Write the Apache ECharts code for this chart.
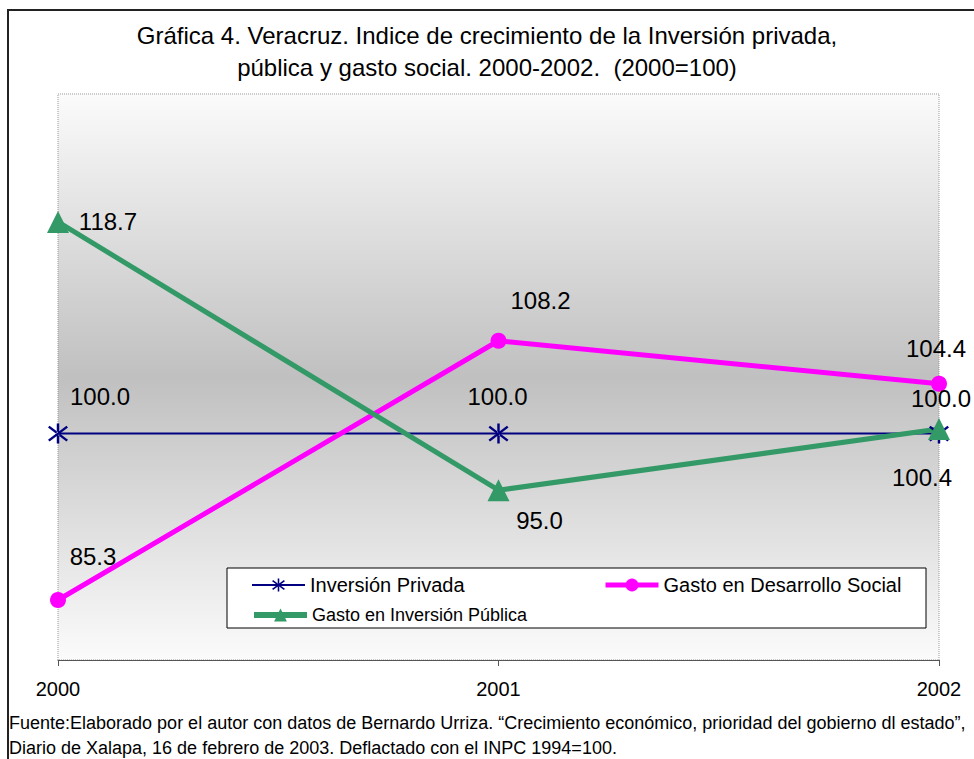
<!DOCTYPE html>
<html>
<head>
<meta charset="utf-8">
<title>Gráfica 4. Veracruz</title>
<script src="https://cdn.jsdelivr.net/npm/echarts@6/dist/echarts.min.js"></script>
<style>
  html, body { margin: 0; padding: 0; background: #fff; }
  #chart { width: 974px; height: 759px; }
</style>
</head>
<body>
<div id="chart"></div>
<script>
// datos (2000=100)
const years = ['2000', '2001', '2002'];
const inversionPrivada = [100.0, 100.0, 100.0];
const desarrolloSocial = [85.3, 108.2, 104.4];
const inversionPublica = [118.7, 95.0, 100.4];

const FONT = '"Liberation Sans", Arial, sans-serif';
// asterisco: linea vertical + dos diagonales
const ASTERISK = 'path://M8.8,0 L11.2,0 L11.2,20 L8.8,20 Z M0.26,3.95 L18.26,17.95 L19.74,16.05 L1.74,2.05 Z M19.74,3.95 L1.74,17.95 L0.26,16.05 L18.26,2.05 Z';

// cada etiqueta se coloca a mano como en la grafica original
const withLabels = (values, offsets) => values.map((v, i) => ({
  value: v,
  label: { offset: offsets[i] }
}));

const chart = echarts.init(document.getElementById('chart'), null, { renderer: 'svg' });

const labelStyle = {
  show: true,
  position: 'inside',
  fontSize: 24,
  fontFamily: FONT,
  color: '#000',
  formatter: (p) => p.value.toFixed(1)
};

const legendBase = (name, left, top, size, color, width) => ({
  z: 200,
  left: left,
  top: top,
  padding: 0,
  itemWidth: 53,
  itemHeight: 16,
  data: [name],
  lineStyle: { color: color, width: width },
  textStyle: { fontSize: size, color: '#000', fontFamily: FONT }
});

chart.setOption({
  animation: false,
  textStyle: { fontFamily: FONT },
  title: [
    {
      text: 'Gráfica 4. Veracruz. Indice de crecimiento de la Inversión privada,\npública y gasto social. 2000-2002.  (2000=100)',
      left: 'center',
      top: 19,
      padding: 0,
      textStyle: { fontSize: 24, fontWeight: 'normal', lineHeight: 32, color: '#000', fontFamily: FONT }
    },
    {
      text: 'Fuente:Elaborado por el autor con datos de Bernardo Urriza. “Crecimiento económico, prioridad del gobierno dl estado”,\nDiario de Xalapa, 16 de febrero de 2003. Deflactado con el INPC 1994=100.',
      left: 9,
      top: 710,
      padding: 0,
      textStyle: { fontSize: 18, fontWeight: 'normal', lineHeight: 25, color: '#000', fontFamily: FONT }
    }
  ],
  graphic: [
    {
      type: 'rect',
      z: -10,
      shape: { x: 8, y: 10, width: 1000, height: 800 },
      style: { fill: 'none', stroke: '#222', lineWidth: 2 }
    },
    {
      type: 'rect',
      z: 150,
      shape: { x: 227, y: 568, width: 699, height: 60 },
      style: { fill: '#fff', stroke: '#000', lineWidth: 1 }
    }
  ],
  legend: [
    legendBase('Inversión Privada', 251, 575, 20, '#000080', 2),
    legendBase('Gasto en Desarrollo Social', 603, 575, 20, '#ff00ff', 5),
    legendBase('Gasto en Inversión Pública', 251, 606, 18, '#339966', 6)
  ],
  grid: {
    show: true,
    left: 58,
    right: 35,
    top: 94,
    bottom: 99,
    borderColor: '#999',
    borderWidth: 1,
    borderType: 'dotted',
    backgroundColor: {
      type: 'linear', x: 0, y: 0, x2: 0, y2: 1,
      colorStops: [
        { offset: 0, color: '#fbfbfb' },
        { offset: 0.5, color: '#c0c0c0' },
        { offset: 1, color: '#fbfbfb' }
      ]
    }
  },
  xAxis: {
    type: 'category',
    boundaryGap: false,
    data: years,
    axisLine: { lineStyle: { color: '#555', width: 1 } },
    axisTick: { show: true, length: 6, lineStyle: { color: '#555' } },
    axisLabel: { fontSize: 20, margin: 19, color: '#000', fontFamily: FONT },
    splitLine: { show: false }
  },
  yAxis: {
    type: 'value',
    min: 80,
    max: 130,
    show: false,
    splitLine: { show: false }
  },
  series: [
    {
      name: 'Inversión Privada',
      type: 'line',
      symbol: ASTERISK,
      symbolSize: 20,
      color: '#000080',
      lineStyle: { color: '#000080', width: 2 },
      itemStyle: { color: '#000080' },
      label: labelStyle,
      data: withLabels(inversionPrivada, [[42, -37], [-1, -37], [2, -35]])
    },
    {
      name: 'Gasto en Desarrollo Social',
      type: 'line',
      symbol: 'circle',
      symbolSize: 16,
      color: '#ff00ff',
      lineStyle: { color: '#ff00ff', width: 5 },
      itemStyle: { color: '#ff00ff' },
      label: labelStyle,
      data: withLabels(desarrolloSocial, [[35, -44], [42, -40], [-3, -35]])
    },
    {
      name: 'Gasto en Inversión Pública',
      type: 'line',
      symbol: 'triangle',
      symbolSize: 22,
      color: '#339966',
      lineStyle: { color: '#339966', width: 5 },
      itemStyle: { color: '#339966' },
      label: labelStyle,
      data: withLabels(inversionPublica, [[50, 0], [41, 30], [-17, 48]])
    }
  ]
});

window.addEventListener('resize', () => {
  chart.resize();
}, false);
</script>
</body>
</html>
